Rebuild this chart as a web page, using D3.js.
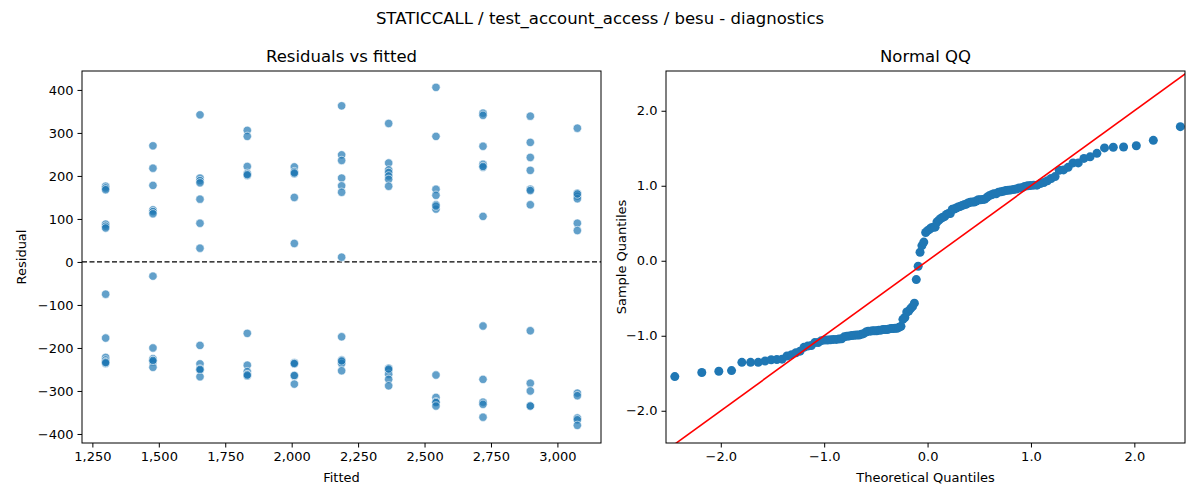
<!DOCTYPE html>
<html>
<head>
<meta charset="utf-8">
<script src="https://cdn.jsdelivr.net/npm/d3@7"></script>
<style>
body{margin:0;background:#fff;font-family:"DejaVu Sans",sans-serif;}
text{font-family:"DejaVu Sans",sans-serif;fill:#000;}
</style>
</head>
<body>
<svg id="chart" width="1200" height="500"></svg>
<script>
// fitted value of each column
const fittedLevels = [1300, 1478, 1655, 1833, 2010, 2188, 2365, 2543, 2720, 2898, 3075];
const residualsByLevel = [
  [176, 172, 168, 88, 83, 79, -75, -177, -222, -228, -232, -236, -234],
  [270, 218, 178, 121, 117, 112, -33, -200, -225, -229, -232, -245, -229],
  [342, 195, 189, 184, 146, 90, 32, -194, -237, -249, -252, -267, -250],
  [306, 292, 222, 206, 201, 203, -166, -240, -255, -262, -265, -263],
  [221, 210, 205, 207, 150, 43, -234, -237, -265, -264, -284, -236],
  [363, 249, 236, 195, 177, 162, 11, -174, -228, -232, -236, -253, -230],
  [322, 230, 214, 208, 200, 192, 176, -247, -251, -261, -273, -288, -249],
  [406, 292, 169, 155, 133, 123, 130, -263, -315, -325, -327, -335],
  [346, 341, 269, 227, 220, 222, 106, -149, -273, -326, -331, -361],
  [339, 278, 243, 213, 169, 166, 133, -160, -282, -300, -335, -335],
  [311, 160, 153, 147, 90, 73, 158, -305, -311, -363, -367, -380]
];
const xTicksLeft = [1250, 1500, 1750, 2000, 2250, 2500, 2750, 3000];
const yTicksLeft = [-400, -300, -200, -100, 0, 100, 200, 300, 400];
const ticksQQ = [-2, -1, 0, 1, 2];

const points = [];
fittedLevels.forEach((f, i) => residualsByLevel[i].forEach(r => points.push({fitted: f, resid: r})));

const svg = d3.select('#chart');
const blue = '#1f77b4';

svg.append('text').attr('x', 600).attr('y', 24).attr('text-anchor', 'middle')
  .style('font-size', '16.5px').text('STATICCALL / test_account_access / besu - diagnostics');

// ---- left panel
const L = {x0: 82, x1: 601, y0: 71, y1: 443};
const xL = d3.scaleLinear().domain([1211, 3164]).range([L.x0, L.x1]);
const yL = d3.scaleLinear().domain([-421, 444]).range([L.y1, L.y0]);

const gl = svg.append('g');
gl.append('text').attr('x', (L.x0 + L.x1) / 2).attr('y', 62).attr('text-anchor', 'middle')
  .style('font-size', '16.5px').text('Residuals vs fitted');
gl.append('g').attr('transform', `translate(0,${L.y1})`)
  .call(d3.axisBottom(xL).tickValues(xTicksLeft).tickSize(4.5).tickPadding(4))
  .call(g => g.select('.domain').remove());
gl.append('g').attr('transform', `translate(${L.x0},0)`)
  .call(d3.axisLeft(yL).tickValues(yTicksLeft).tickSize(4.5).tickPadding(4))
  .call(g => g.select('.domain').remove());
gl.append('line').attr('x1', L.x0).attr('x2', L.x1).attr('y1', yL(0)).attr('y2', yL(0))
  .attr('stroke', '#000').attr('stroke-width', 1.2).attr('stroke-dasharray', '5,2.5');
gl.selectAll('circle').data(points).join('circle')
  .attr('cx', d => xL(d.fitted)).attr('cy', d => yL(d.resid)).attr('r', 4.2)
  .attr('fill', blue).attr('fill-opacity', 0.7).attr('stroke', '#fff').attr('stroke-width', 0.6);
gl.append('rect').attr('x', L.x0).attr('y', L.y0).attr('width', L.x1 - L.x0).attr('height', L.y1 - L.y0)
  .attr('fill', 'none').attr('stroke', '#000').attr('stroke-width', 1);
gl.append('text').attr('x', (L.x0 + L.x1) / 2).attr('y', 482).attr('text-anchor', 'middle')
  .style('font-size', '13px').text('Fitted');
gl.append('text').attr('transform', `translate(26,${(L.y0 + L.y1) / 2}) rotate(-90)`).attr('text-anchor', 'middle')
  .style('font-size', '13px').text('Residual');

// ---- right panel: normal QQ of the standardised residuals
const R = {x0: 666, x1: 1185, y0: 71, y1: 443};
const vals = points.map(d => d.resid);
const mean = d3.mean(vals), sd = d3.deviation(vals);
const sorted = vals.map(v => (v - mean) / sd).sort(d3.ascending);
const n = sorted.length;
const invNorm = p => { // Acklam approximation
  const a = [-39.6968302866538, 220.946098424521, -275.928510446969, 138.357751867269, -30.6647980661472, 2.50662827745924];
  const b = [-54.4760987982241, 161.585836858041, -155.698979859887, 66.8013118877197, -13.2806815528857];
  const c = [-0.00778489400243029, -0.322396458041136, -2.40075827716184, -2.54973253934373, 4.37466414146497, 2.93816398269878];
  const dd = [0.00778469570904146, 0.32246712907004, 2.445134137143, 3.75440866190742];
  const pl = 0.02425;
  if (p < pl) { const q = Math.sqrt(-2 * Math.log(p)); return (((((c[0]*q+c[1])*q+c[2])*q+c[3])*q+c[4])*q+c[5]) / ((((dd[0]*q+dd[1])*q+dd[2])*q+dd[3])*q+1); }
  if (p > 1 - pl) { const q = Math.sqrt(-2 * Math.log(1 - p)); return -(((((c[0]*q+c[1])*q+c[2])*q+c[3])*q+c[4])*q+c[5]) / ((((dd[0]*q+dd[1])*q+dd[2])*q+dd[3])*q+1); }
  const q = p - 0.5, r = q * q;
  return (((((a[0]*r+a[1])*r+a[2])*r+a[3])*r+a[4])*r+a[5])*q / (((((b[0]*r+b[1])*r+b[2])*r+b[3])*r+b[4])*r+1);
};
const qq = sorted.map((s, i) => ({t: invNorm((i + 1) / (n + 1)), s}));

const xR = d3.scaleLinear().domain([-2.53, 2.49]).range([R.x0, R.x1]);
const yR = d3.scaleLinear().domain([-2.43, 2.53]).range([R.y1, R.y0]);
const gr = svg.append('g');
gr.append('text').attr('x', (R.x0 + R.x1) / 2).attr('y', 62).attr('text-anchor', 'middle')
  .style('font-size', '16.5px').text('Normal QQ');
gr.append('g').attr('transform', `translate(0,${R.y1})`)
  .call(d3.axisBottom(xR).tickValues(ticksQQ).tickSize(4.5).tickPadding(4))
  .call(g => g.select('.domain').remove());
gr.append('g').attr('transform', `translate(${R.x0},0)`)
  .call(d3.axisLeft(yR).tickValues(ticksQQ).tickSize(4.5).tickPadding(4))
  .call(g => g.select('.domain').remove());
gr.append('defs').append('clipPath').attr('id', 'qqclip').append('rect')
  .attr('x', R.x0).attr('y', R.y0).attr('width', R.x1 - R.x0).attr('height', R.y1 - R.y0);
const cg = gr.append('g').attr('clip-path', 'url(#qqclip)');
cg.selectAll('circle').data(qq).join('circle')
  .attr('cx', d => xR(d.t)).attr('cy', d => yR(d.s)).attr('r', 4.5).attr('fill', blue);
cg.append('line').attr('x1', xR(-3)).attr('y1', yR(-3)).attr('x2', xR(3)).attr('y2', yR(3))
  .attr('stroke', 'red').attr('stroke-width', 1.6);
gr.append('rect').attr('x', R.x0).attr('y', R.y0).attr('width', R.x1 - R.x0).attr('height', R.y1 - R.y0)
  .attr('fill', 'none').attr('stroke', '#000').attr('stroke-width', 1);
gr.append('text').attr('x', (R.x0 + R.x1) / 2).attr('y', 482).attr('text-anchor', 'middle')
  .style('font-size', '13px').text('Theoretical Quantiles');
gr.append('text').attr('transform', `translate(626,${(R.y0 + R.y1) / 2}) rotate(-90)`).attr('text-anchor', 'middle')
  .style('font-size', '13px').text('Sample Quantiles');

svg.selectAll('.tick text').style('font-size', '13px').attr('fill', '#000');
svg.selectAll('.tick line').attr('stroke', '#000');
</script>
</body>
</html>
